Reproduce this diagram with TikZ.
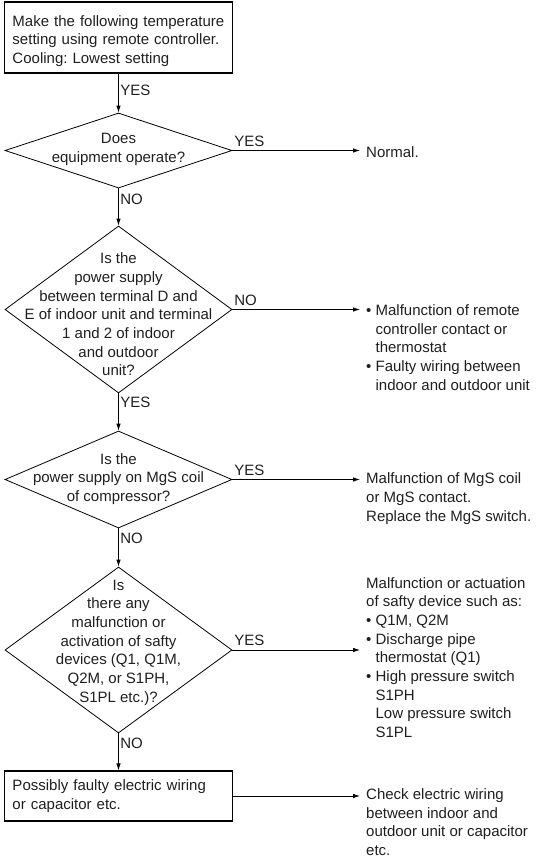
\documentclass[tikz,border=0pt]{standalone}
\usepackage{fontspec}
\setmainfont{Liberation Sans}
\usetikzlibrary{shapes.geometric,arrows.meta}
\frenchspacing
% bullet and matching indent for list-like outcome texts
\newcommand\bulletmark{\textbullet\ }
\newcommand\bulletpad{\phantom{\textbullet\ }}
\begin{document}
\begin{tikzpicture}[x=1pt,y=-1pt,
  txt/.style={font=\fontsize{15pt}{18.7pt}\selectfont, text=black!88},
  box/.style={txt, draw, line width=1.1pt, rectangle, text width=212pt,
    inner xsep=8pt, inner ysep=0pt, align=left, minimum width=228pt},
  decision/.style={draw, diamond, line width=0.8pt, inner sep=0pt,
    minimum width=227pt},
  qtext/.style={txt, align=center, inner sep=0pt},
  outcome/.style={txt, align=left, anchor=west, inner xsep=6pt, inner ysep=0pt},
  lab/.style={txt, inner sep=1.5pt},
  flow/.style={line width=0.8pt, -{Latex[length=7pt,width=4.5pt]}}]
\useasboundingbox (0,0) rectangle (542,857);

% main column: start box, four decisions, final box
\node[box, minimum height=71pt] (b1) at (118.5,37.5)
  {\rule{0pt}{18pt}Make the following temperature\\setting using remote controller.\\Cooling: Lowest setting};

\node[decision, minimum height=75pt] (d1) at (118.5,150.5) {};
\node[qtext] (q1) at (118.5,149.5) {Does\\equipment operate?};

\node[decision, minimum height=167pt] (d2) at (118.5,309.5) {};
\node[qtext] (q2) at (118.5,314.5) {Is the\\power supply\\between terminal D and\\E of indoor unit and terminal\\1 and 2 of indoor\\and outdoor\\unit?};

\node[decision, minimum height=97pt] (d3) at (118.5,479.5) {};
\node[qtext] (q3) at (118.5,479) {Is the\\power supply on MgS coil\\of compressor?};

\node[decision, minimum height=166pt] (d4) at (118.5,650) {};
\node[qtext] (q4) at (118.5,642.5) {Is\\there any\\malfunction or\\activation of safty\\devices (Q1, Q1M,\\Q2M, or S1PH,\\S1PL etc.)?};

\node[box, minimum height=50pt] (b5) at (118.5,796)
  {Possibly faulty electric wiring\\or capacitor etc.};

% outcomes on the right
\node[outcome] (o1) at (360,152) {Normal.};
\node[outcome] (o2) at (360,347.5) {\bulletmark Malfunction of remote\\\bulletpad controller contact or\\\bulletpad thermostat\\\bulletmark Faulty wiring between\\\bulletpad indoor and outdoor unit};
\node[outcome] (o3) at (360,498.5) {Malfunction of MgS coil\\or MgS contact.\\Replace the MgS switch.};
\node[outcome] (o4) at (360,657.5) {Malfunction or actuation\\of safty device such as:\\\bulletmark Q1M, Q2M\\\bulletmark Discharge pipe\\\bulletpad thermostat (Q1)\\\bulletmark High pressure switch\\\bulletpad S1PH\\\bulletpad Low pressure switch\\\bulletpad S1PL};
\node[outcome] (o5) at (360,822) {Check electric wiring\\between indoor and\\outdoor unit or capacitor\\etc.};

% vertical flow
\draw[flow] (b1) -- node[lab, right, pos=0.42] (l1) {YES} (d1);
\draw[flow] (d1) -- node[lab, right, pos=0.29] (l2) {NO} (d2);
\draw[flow] (d2) -- node[lab, right, pos=0.25] (l3) {YES} (d3);
\draw[flow] (d3) -- node[lab, right, pos=0.26] (l4) {NO} (d4);
\draw[flow] (d4) -- node[lab, right, pos=0.26] (l5) {NO} (b5);

% branches to the outcomes
\draw[flow] (d1.east) -- node[lab, anchor=south west, pos=0, yshift=2pt] (m1) {YES} (d1.east -| o1.west);
\draw[flow] (d2.east) -- node[lab, anchor=south west, pos=0, yshift=2pt] (m2) {NO} (d2.east -| o2.west);
\draw[flow] (d3.east) -- node[lab, anchor=south west, pos=0, yshift=2pt] (m3) {YES} (d3.east -| o3.west);
\draw[flow] (d4.east) -- node[lab, anchor=south west, pos=0, yshift=2pt] (m4) {YES} (d4.east -| o4.west);
\draw[flow] (b5.east) -- (b5.east -| o5.west);
\end{tikzpicture}
\end{document}
